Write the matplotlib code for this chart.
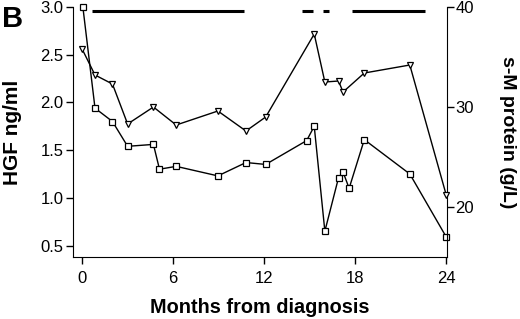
import matplotlib.pyplot as plt

plt.rcParams['font.family'] = ['Liberation Sans', 'DejaVu Sans']

# HGF (ng/ml), open squares, left axis
hgf_months = [0.05, 0.85, 2.0, 3.0, 4.7, 5.1, 6.2, 8.95, 10.8, 12.1, 14.8, 15.3, 16.0, 16.9, 17.2, 17.6, 18.6, 21.6, 24.0]
hgf_values = [3.0, 1.94, 1.80, 1.54, 1.56, 1.30, 1.33, 1.23, 1.37, 1.35, 1.60, 1.75, 0.65, 1.21, 1.27, 1.10, 1.61, 1.25, 0.59]

# s-M protein (g/L), open down triangles, right axis
mp_months = [0.0, 0.85, 2.0, 3.0, 4.7, 6.2, 8.95, 10.8, 12.1, 15.3, 16.0, 16.9, 17.2, 18.6, 21.6, 24.0]
mp_values = [35.8, 33.2, 32.3, 28.3, 30.0, 28.2, 29.6, 27.6, 29.0, 37.3, 32.5, 32.6, 31.5, 33.4, 34.2, 21.2]

# treatment periods drawn as bars along the top
bar_starts = [0.65, 14.5, 15.9, 17.8]
bar_ends = [10.7, 15.2, 16.3, 22.6]
bar_level = 2.96

fig = plt.figure(figsize=(5.2, 3.19), dpi=100)
ax = fig.add_axes([0.1404, 0.1944, 0.7192, 0.7836])
ax2 = ax.twinx()

ax.plot(hgf_months, hgf_values, color='black', lw=1.0, marker='s', ms=5,
        mfc='white', mec='black', mew=0.9, clip_on=False, zorder=3)
ax2.plot(mp_months, mp_values, color='black', lw=1.0, marker='v', ms=5,
         mfc='white', mec='black', mew=0.9, clip_on=False, zorder=3)

for s, e in zip(bar_starts, bar_ends):
    ax.plot([s, e], [bar_level, bar_level], color='black', lw=2.2, solid_capstyle='butt')

ax.set_xlim(-0.6, 24.05)
ax.set_ylim(0.38, 3.0)
ax2.set_ylim(15, 40)

ax.set_xticks([0, 6, 12, 18, 24])
ax.set_yticks([0.5, 1.0, 1.5, 2.0, 2.5, 3.0])
ax2.set_yticks([20, 30, 40])

for a in (ax, ax2):
    a.spines['top'].set_visible(False)
ax2.spines['left'].set_visible(False)
ax2.spines['bottom'].set_visible(False)
ax.spines['right'].set_visible(False)

ax.tick_params(axis='both', direction='out', length=5, width=1, labelsize=12, pad=2)
ax.tick_params(axis='x', pad=5)
ax2.tick_params(axis='y', direction='out', length=5, width=1, labelsize=12, pad=1)

ax.set_xlabel('Months from diagnosis', fontsize=14.3, fontweight='bold', labelpad=9)
ax.set_ylabel('HGF ng/ml', fontsize=15, fontweight='bold', labelpad=13)
ax2.set_ylabel('s-M protein (g/L)', fontsize=14, fontweight='bold', rotation=270, labelpad=30)

fig.text(0.003, 0.985, 'B', fontsize=21, fontweight='bold', va='top', ha='left')

fig.savefig('out.png', dpi=100)
